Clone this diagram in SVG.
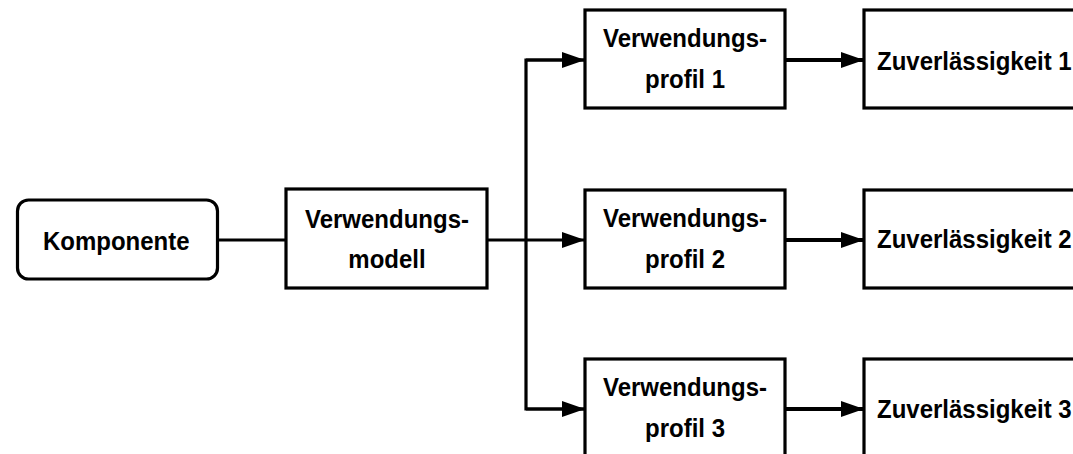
<svg xmlns="http://www.w3.org/2000/svg" width="1073" height="454" viewBox="0 0 1073 454">
  <style>
    .box { fill: #ffffff; stroke: #000000; stroke-width: 3.2; }
    .lbl { font-family: "Liberation Sans", Arial, sans-serif; font-weight: bold; font-size: 24px; fill: #000000; }
    .mid { text-anchor: middle; }
    .wire { fill: none; stroke: #000000; stroke-width: 3.2; }
    .wire.heavy { stroke-width: 4; }
  </style>
  <defs>
    <marker id="arrow" viewBox="0 0 23 16" refX="23" refY="8" markerWidth="23" markerHeight="16" markerUnits="userSpaceOnUse" orient="auto">
      <path d="M0,0 L23,8 L0,16 Z" fill="#000000"/>
    </marker>
  </defs>

  <rect width="1073" height="454" fill="#ffffff"/>

  <!-- connectors -->
  <g id="connectors">
    <line class="wire" x1="218" y1="240" x2="286" y2="240"/>
    <line class="wire" x1="487" y1="240" x2="585" y2="240" marker-end="url(#arrow)"/>
    <polyline class="wire" points="585,60 526,60 526,409 585,409"/>
    <line class="wire" x1="526" y1="60" x2="585" y2="60" marker-end="url(#arrow)"/>
    <line class="wire" x1="526" y1="409" x2="585" y2="409" marker-end="url(#arrow)"/>
    <line class="wire heavy" x1="785" y1="60" x2="864" y2="60" marker-end="url(#arrow)"/>
    <line class="wire heavy" x1="785" y1="240" x2="864" y2="240" marker-end="url(#arrow)"/>
    <line class="wire heavy" x1="785" y1="409" x2="864" y2="409" marker-end="url(#arrow)"/>
  </g>

  <!-- labels are stretched slightly in height -->
  <g id="komponente">
    <rect class="box" x="17.5" y="200" width="200" height="79" rx="11"/>
    <text class="lbl" transform="translate(43,250) scale(1,1.08)">Komponente</text>
  </g>

  <g id="verwendungsmodell">
    <rect class="box" x="286" y="189" width="201" height="99"/>
    <text class="lbl mid" transform="translate(387,228) scale(1,1.08)">Verwendungs-</text>
    <text class="lbl mid" transform="translate(387,268) scale(1,1.08)">modell</text>
  </g>

  <g id="profil1">
    <rect class="box" x="585" y="10" width="200" height="98"/>
    <text class="lbl mid" transform="translate(685,47) scale(1,1.08)">Verwendungs-</text>
    <text class="lbl mid" transform="translate(685,88) scale(1,1.08)">profil 1</text>
  </g>

  <g id="profil2">
    <rect class="box" x="585" y="190" width="200" height="98"/>
    <text class="lbl mid" transform="translate(685,227) scale(1,1.08)">Verwendungs-</text>
    <text class="lbl mid" transform="translate(685,268) scale(1,1.08)">profil 2</text>
  </g>

  <g id="profil3">
    <rect class="box" x="585" y="359" width="200" height="98"/>
    <text class="lbl mid" transform="translate(685,396) scale(1,1.08)">Verwendungs-</text>
    <text class="lbl mid" transform="translate(685,437) scale(1,1.08)">profil 3</text>
  </g>

  <g id="zuverlaessigkeit1">
    <rect class="box" x="864" y="10" width="220" height="98"/>
    <text class="lbl" transform="translate(877,70) scale(1,1.08)">Zuverlässigkeit 1</text>
  </g>

  <g id="zuverlaessigkeit2">
    <rect class="box" x="864" y="190" width="220" height="98"/>
    <text class="lbl" transform="translate(877,248) scale(1,1.08)">Zuverlässigkeit 2</text>
  </g>

  <g id="zuverlaessigkeit3">
    <rect class="box" x="864" y="359" width="220" height="98"/>
    <text class="lbl" transform="translate(877,418) scale(1,1.08)">Zuverlässigkeit 3</text>
  </g>
</svg>
